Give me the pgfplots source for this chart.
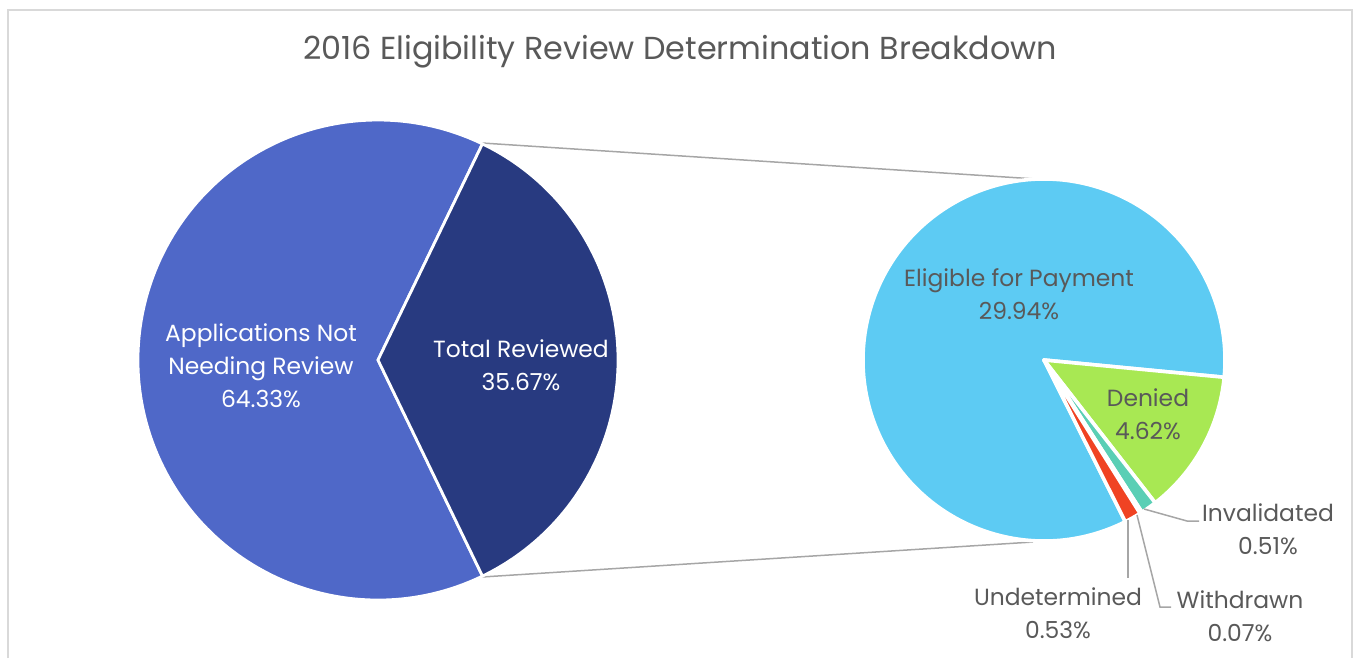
\documentclass[border=0pt]{standalone}
\usepackage{pgfplots}
\pgfplotsset{compat=1.18}
\usepackage{pgfplotstable}
\usepackage{fontspec}
\setmainfont{Poppins}

\definecolor{cNot}{HTML}{4F68C8}
\definecolor{cRev}{HTML}{283A80}
\definecolor{cElig}{HTML}{5DCBF3}
\definecolor{cDen}{HTML}{A8E853}
\definecolor{cInv}{HTML}{5ACFB5}
\definecolor{cWit}{HTML}{8C9BAA}
\definecolor{cUnd}{HTML}{F04323}
\definecolor{txt}{HTML}{595959}
\definecolor{lead}{HTML}{A6A6A6}
\definecolor{frame}{HTML}{D9D9D9}

% main pie, drawn clockwise
\pgfplotstableread[col sep=comma]{
name,value,color
Applications Not Needing Review,64.33,cNot
Total Reviewed,35.67,cRev
}\mainpie

% second pie (breakdown of Total Reviewed), drawn clockwise
\pgfplotstableread[col sep=comma]{
name,value,color
Eligible for Payment,29.94,cElig
Denied,4.62,cDen
Invalidated,0.51,cInv
Withdrawn,0.07,cWit
Undetermined,0.53,cUnd
}\subpie

% \drawpie{table}{center x}{center y}{radius}{start angle}{border width}
\newcommand\drawpie[6]{%
  \pgfplotstablegetrowsof{#1}\pgfmathtruncatemacro\nrows{\pgfplotsretval-1}%
  \gdef\pietot{0}%
  \foreach \i in {0,...,\nrows}{%
    \pgfplotstablegetelem{\i}{value}\of#1%
    \pgfmathsetmacro\tmp{\pietot+\pgfplotsretval}\xdef\pietot{\tmp}}%
  \xdef\pieang{#5}%
  \foreach \i in {0,...,\nrows}{%
    \pgfplotstablegetelem{\i}{value}\of#1\let\v\pgfplotsretval
    \pgfplotstablegetelem{\i}{color}\of#1\let\c\pgfplotsretval
    \pgfmathsetmacro\d{360*(\v/\pietot)}%
    \fill[fill=\c, draw=white, line width=#6, line join=round]
      (axis cs:#2,#3) -- ++(\pieang:#4) arc[start angle=\pieang, delta angle=-\d, radius=#4] -- cycle;
    \pgfmathsetmacro\tmp{\pieang-\d}\xdef\pieang{\tmp}}%
}

\begin{document}
\begin{tikzpicture}
\begin{axis}[
  x=0.5pt, y=0.5pt,
  xmin=0, xmax=1353, ymin=0, ymax=658,
  y dir=reverse,
  hide axis, clip=false,
  scale only axis,
]
\addplot[draw=none, forget plot] coordinates {(0,0) (1353,658)};

% frame
\draw[frame, line width=1pt] (axis cs:7.5,658) -- (axis cs:7.5,9.5) -- (axis cs:1351.5,9.5) -- (axis cs:1351.5,658);

% connector lines
\draw[lead, line width=0.75pt] (axis cs:482,143) -- (axis cs:1036,179);
\draw[lead, line width=0.75pt] (axis cs:482,577) -- (axis cs:1033,542);

\pgfplotsextra{\drawpie{\mainpie}{378}{360}{120pt}{295.8}{1.4pt}}
\pgfplotsextra{\drawpie{\subpie}{1044}{360}{90.5pt}{296.7}{1.8pt}}

% leader lines
\draw[lead, line width=0.75pt] (axis cs:1144,509) -- (axis cs:1187,521) -- (axis cs:1199,521);
\draw[lead, line width=0.75pt] (axis cs:1137,515) -- (axis cs:1160,607) -- (axis cs:1171,607);
\draw[lead, line width=0.75pt] (axis cs:1128,520) -- (axis cs:1128,578);

% title
\node[text=txt, font=\fontsize{15.9}{20}\selectfont] at (axis cs:680,52) {2016 Eligibility Review Determination Breakdown};

% labels
\tikzset{lbl/.style={align=center, font=\fontsize{11.7}{16.5}\selectfont, inner sep=0pt}}
\node[lbl, text=white] at (axis cs:261,366) {Applications Not\\Needing Review\\64.33\%};
\node[lbl, text=white] at (axis cs:521,365) {Total Reviewed\\35.67\%};
\node[lbl, text=txt] at (axis cs:1019,294) {Eligible for Payment\\29.94\%};
\node[lbl, text=txt] at (axis cs:1148,414) {Denied\\4.62\%};
\node[lbl, text=txt] at (axis cs:1268,529) {Invalidated\\0.51\%};
\node[lbl, text=txt] at (axis cs:1240,616) {Withdrawn\\0.07\%};
\node[lbl, text=txt] at (axis cs:1058,613) {Undetermined\\0.53\%};
\end{axis}
\end{tikzpicture}
\end{document}
